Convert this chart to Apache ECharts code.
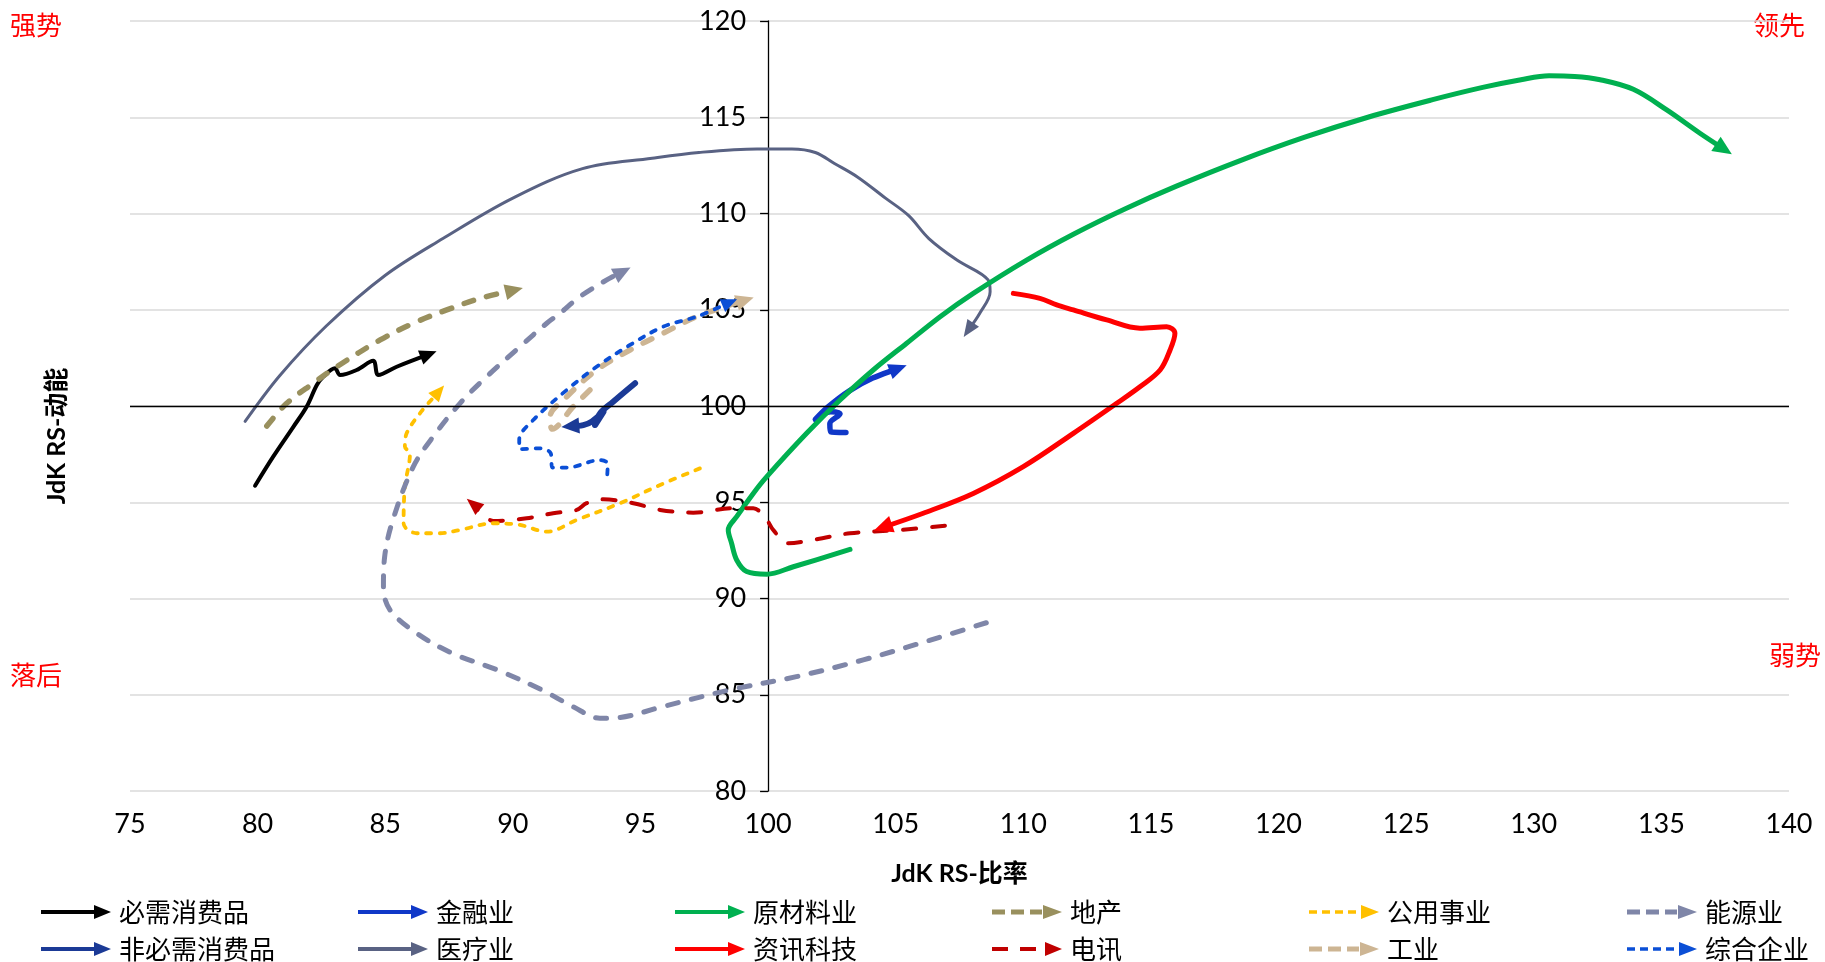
<!DOCTYPE html>
<html>
<head>
<meta charset="utf-8">
<script src="https://cdn.jsdelivr.net/npm/echarts@6/dist/echarts.min.js"></script>
<style>
  html, body { margin: 0; padding: 0; background: #ffffff; }
  #chart { width: 1825px; height: 962px; }
</style>
</head>
<body>
<div id="chart"></div>
<script>
// ---- Relative-rotation data: [JdK RS-比率, JdK RS-动能], oldest point first ----
const sectorNames = ['必需消费品', '非必需消费品', '金融业', '医疗业', '原材料业', '资讯科技',
                     '地产', '电讯', '公用事业', '工业', '能源业', '综合企业'];

const pathStaples = [[79.90, 95.86], [80.61, 97.37], [81.40, 98.92], [81.92, 99.96], [82.32, 101.09],
  [82.57, 101.52], [83.03, 101.96], [83.23, 101.61], [83.88, 101.87], [84.53, 102.35], [84.73, 101.61],
  [85.45, 102.04], [86.70, 102.68]];
const pathDiscretionary = [[94.79, 101.18], [93.93, 100.22], [93.42, 99.62], [93.22, 99.01], [93.55, 99.70],
  [93.10, 99.20], [92.76, 99.01], [92.25, 98.95]];
const pathFinancials = [[103.05, 98.62], [102.45, 98.66], [102.42, 99.08], [102.82, 99.60], [102.45, 99.70],
  [101.85, 99.30], [102.35, 99.95], [103.20, 100.80], [104.10, 101.45], [105.10, 101.95]];
const pathHealthCare = [[79.51, 99.20], [80.88, 101.60], [82.70, 104.17], [84.98, 106.77], [87.26, 108.70],
  [90.00, 110.80], [92.73, 112.33], [95.46, 112.87], [97.29, 113.17], [99.57, 113.35], [100.93, 113.35],
  [101.85, 113.17], [102.60, 112.60], [103.50, 111.90], [104.60, 110.80], [105.50, 109.90], [106.30, 108.70],
  [107.40, 107.58], [108.62, 106.55], [108.70, 105.94], [108.30, 104.83], [107.85, 103.95]];
const pathMaterials = [[103.21, 92.55], [100.99, 91.65], [99.95, 91.26], [99.16, 91.40], [98.77, 92.00],
  [98.57, 92.87], [98.44, 93.56], [98.77, 94.25], [99.42, 95.46], [99.95, 96.33], [101.51, 98.58],
  [102.82, 100.31], [104.12, 101.87], [105.43, 103.26], [106.74, 104.64], [108.04, 105.85], [110.13, 107.58],
  [112.00, 108.95], [114.00, 110.25], [116.00, 111.42], [118.50, 112.75], [121.00, 113.95], [123.50, 115.00],
  [126.00, 115.90], [128.00, 116.55], [129.50, 116.95], [130.60, 117.15], [131.60, 117.12], [132.60, 116.95],
  [133.90, 116.45], [135.21, 115.38], [136.51, 114.17], [137.45, 113.35]];
const pathInfoTech = [[109.61, 105.85], [110.65, 105.59], [111.31, 105.25], [111.96, 104.99], [113.27, 104.47],
  [114.57, 104.04], [115.62, 104.12], [115.94, 103.78], [115.75, 102.91], [115.36, 101.87], [114.57, 101.00],
  [113.66, 100.14], [111.96, 98.58], [110.00, 96.85], [108.04, 95.46], [106.08, 94.43], [104.50, 93.70]];
const pathProperty = [[80.36, 98.96], [81.14, 100.14], [82.18, 101.18], [83.10, 102.04], [84.80, 103.43],
  [86.10, 104.30], [87.41, 104.99], [88.71, 105.59], [90.05, 106.02]];
const pathTelecom = [[106.93, 93.78], [105.17, 93.56], [103.21, 93.39], [101.91, 93.08], [100.79, 92.87],
  [100.20, 93.56], [99.95, 94.08], [99.42, 94.69], [98.64, 94.69], [97.07, 94.46], [95.77, 94.60],
  [94.72, 94.95], [93.54, 95.15], [92.89, 94.95], [92.50, 94.60], [91.58, 94.43], [90.54, 94.17],
  [89.24, 94.03], [88.45, 94.90]];
const pathUtilities = [[97.33, 96.76], [95.77, 95.90], [94.20, 94.95], [92.50, 94.08], [91.33, 93.47],
  [90.28, 93.82], [89.24, 93.91], [87.93, 93.56], [87.12, 93.39], [86.24, 93.39], [85.72, 93.91],
  [85.77, 95.81], [85.97, 97.54], [85.77, 97.89], [85.84, 98.58], [86.36, 99.62], [87.10, 100.75]];
const pathIndustrials = [[93.02, 100.83], [92.36, 99.96], [91.55, 98.80], [91.46, 99.44], [92.11, 100.48],
  [93.28, 101.87], [94.59, 102.91], [95.89, 103.78], [97.20, 104.64], [98.51, 105.25], [99.10, 105.50]];
const pathEnergy = [[108.55, 88.74], [106.36, 87.84], [103.73, 86.81], [101.11, 85.94], [98.49, 85.25],
  [95.86, 84.38], [94.12, 83.81], [93.41, 83.78], [92.36, 84.38], [91.14, 85.25], [89.39, 86.29],
  [87.64, 87.15], [86.24, 88.19], [85.19, 89.40], [84.93, 90.61], [84.98, 92.20], [85.30, 94.08],
  [86.10, 96.85], [86.88, 98.41], [87.93, 100.14], [88.97, 101.52], [90.28, 103.08], [91.33, 104.30],
  [91.85, 104.82], [92.63, 105.68], [93.68, 106.55], [94.30, 106.98]];
const pathConglomerates = [[93.70, 96.45], [93.72, 97.00], [93.42, 97.19], [92.11, 96.80], [91.55, 96.80],
  [91.48, 97.55], [91.06, 97.80], [90.28, 97.75], [90.25, 98.25], [90.80, 99.27], [92.11, 100.83],
  [93.28, 102.04], [94.59, 103.17], [95.89, 104.12], [97.20, 104.64], [98.50, 105.38]];

const sectorPaths = [pathStaples, pathDiscretionary, pathFinancials, pathHealthCare, pathMaterials, pathInfoTech,
                     pathProperty, pathTelecom, pathUtilities, pathIndustrials, pathEnergy, pathConglomerates];

const xTicks = { min: 75, max: 140, step: 5 };
const yTicks = { min: 80, max: 120, step: 5 };
const crossValue = 100;
const quadrantLabels = ['强势', '领先', '落后', '弱势'];
const xAxisTitle = 'JdK RS-比率';
const yAxisTitle = 'JdK RS-动能';

// legend columns: pairs of sector indices (top row, bottom row)
const legendColumns = [[0, 1], [2, 3], [4, 5], [6, 7], [8, 9], [10, 11]];

// ---- Styling ----
const W = 1825, H = 962;
const GRID = { left: 130, right: 36, top: 21, bottom: 171 };
const NUM_FONT = 'Lato, "Noto Sans CJK SC", sans-serif';
const CJK_FONT = '"Noto Sans CJK SC", sans-serif';

const ICON_SOLID = 'path://M0,5L54,5L54,9L0,9Z M53,0L70,7L53,14Z';
const ICON_DASH3 = 'path://M0,4.5L13,4.5L13,9.5L0,9.5Z M19,4.5L32,4.5L32,9.5L19,9.5Z M38,4.5L50,4.5L50,9.5L38,9.5Z M51,0L70,7L51,14Z';
const ICON_DASH2 = 'path://M0,5L16,5L16,9L0,9Z M28,5L44,5L44,9L28,9Z M53,0L70,7L53,14Z';
const ICON_DASH4 = 'path://M0,5.2L8,5.2L8,8.8L0,8.8Z M13,5.2L21,5.2L21,8.8L13,8.8Z M26,5.2L34,5.2L34,8.8L26,8.8Z M39,5.2L47,5.2L47,8.8L39,8.8Z M52,0L70,7L52,14Z';

const sectorStyles = [
  { color: '#000000', width: 4,   type: 'solid', cap: 'round', icon: ICON_SOLID, arrow: [15, 17] },
  { color: '#1B3A96', width: 6,   type: 'solid', cap: 'round', icon: ICON_SOLID, arrow: [16, 18] },
  { color: '#1038C8', width: 5.5, type: 'solid', cap: 'round', icon: ICON_SOLID, arrow: [16, 18] },
  { color: '#596283', width: 3,   type: 'solid', cap: 'round', icon: ICON_SOLID, arrow: [14, 17] },
  { color: '#00B050', width: 5,   type: 'solid', cap: 'round', icon: ICON_SOLID, arrow: [17, 19] },
  { color: '#FF0000', width: 5,   type: 'solid', cap: 'round', icon: ICON_SOLID, arrow: [17, 19] },
  { color: '#99905E', width: 5.5, type: [10, 13.5], cap: 'round', icon: ICON_DASH3, arrow: [16, 18] },
  { color: '#C00000', width: 4,   type: [13, 16], cap: 'round', icon: ICON_DASH2, arrow: [14, 17] },
  { color: '#FFC000', width: 3.8, type: [5, 8.5], cap: 'round', icon: ICON_DASH4, arrow: [14, 16] },
  { color: '#CDB593', width: 5.5, type: [10, 13.5], cap: 'round', icon: ICON_DASH3, arrow: [16, 18] },
  { color: '#7F86A8', width: 5,   type: [11, 13.5], cap: 'round', icon: ICON_DASH3, arrow: [16, 18] },
  { color: '#0B4FD6', width: 3.8, type: [5, 8.5], cap: 'round', icon: ICON_DASH4, arrow: [14, 16] }
];
const legendLefts = [41, 358, 675, 992, 1309, 1627];

const chart = echarts.init(document.getElementById('chart'), null, { renderer: 'canvas', width: W, height: H });

// the momentum axis sits on the x = crossValue line
const plotWidth = W - GRID.left - GRID.right;
const yAxisOffset = -(crossValue - xTicks.min) / (xTicks.max - xTicks.min) * plotWidth;

function buildSeries(rotations) {
  const list = [{
    name: '__cross', type: 'line', data: [], z: 1, silent: true,
    markLine: {
      silent: true, symbol: ['none', 'none'], animation: false,
      label: { show: false }, emphasis: { disabled: true },
      lineStyle: { color: '#000000', width: 1.3, type: 'solid' },
      data: [{ yAxis: crossValue }]
    }
  }];
  sectorNames.forEach((name, i) => {
    const st = sectorStyles[i];
    const pts = sectorPaths[i];
    list.push({
      name, type: 'line', smooth: 0.35, z: 3,
      symbol: 'triangle', showSymbol: true, animation: false,
      emphasis: { disabled: true }, silent: true,
      lineStyle: { color: st.color, width: st.width, type: st.type, cap: st.cap, join: 'round' },
      itemStyle: { color: st.color, borderWidth: 0 },
      data: pts.map((p, k) => k === pts.length - 1
        ? { value: p, symbol: 'triangle', symbolSize: st.arrow, symbolRotate: rotations ? rotations[i] : 0 }
        : { value: p, symbol: 'none' })
    });
  });
  return list;
}

const option = {
  backgroundColor: '#ffffff',
  animation: false,
  grid: { left: GRID.left, right: GRID.right, top: GRID.top, bottom: GRID.bottom, containLabel: false },
  xAxis: {
    type: 'value', min: xTicks.min, max: xTicks.max, interval: xTicks.step,
    name: xAxisTitle, nameLocation: 'middle', nameGap: 70,
    nameTextStyle: { fontFamily: NUM_FONT, fontWeight: 'bold', fontSize: 25, color: '#000000' },
    axisLine: { show: false }, axisTick: { show: false }, splitLine: { show: false },
    axisLabel: { fontFamily: NUM_FONT, fontSize: 27, color: '#000000', margin: 20 }
  },
  yAxis: {
    type: 'value', min: yTicks.min, max: yTicks.max, interval: yTicks.step,
    position: 'left', offset: yAxisOffset,
    axisLine: { show: true, lineStyle: { color: '#000000', width: 1.3 } },
    axisTick: { show: true, length: 8, lineStyle: { color: '#000000', width: 1.3 } },
    splitLine: { show: true, lineStyle: { color: '#DADADA', width: 1.5 } },
    axisLabel: { fontFamily: NUM_FONT, fontSize: 27, color: '#000000', margin: 22 }
  },
  legend: legendColumns.map((col, c) => ({
    orient: 'vertical', left: legendLefts[c], top: 899, height: 120, padding: 0,
    itemGap: 11, itemWidth: 70, itemHeight: 14, selectedMode: false,
    itemStyle: { borderWidth: 0 },
    textStyle: { fontFamily: CJK_FONT, fontSize: 26, color: '#000000', padding: [0, 0, 0, 3] },
    data: col.map(i => ({ name: sectorNames[i], icon: sectorStyles[i].icon }))
  })),
  graphic: [
    { type: 'text', left: 10, top: 12, style: { text: quadrantLabels[0], fill: '#FF0000', font: '26px ' + CJK_FONT } },
    { type: 'text', right: 20, top: 12, style: { text: quadrantLabels[1], fill: '#FF0000', font: '26px ' + CJK_FONT } },
    { type: 'text', left: 10, top: 662, style: { text: quadrantLabels[2], fill: '#FF0000', font: '26px ' + CJK_FONT } },
    { type: 'text', right: 4, top: 642, style: { text: quadrantLabels[3], fill: '#FF0000', font: '26px ' + CJK_FONT } },
    { type: 'text', x: 57, y: 436, rotation: Math.PI / 2,
      style: { text: yAxisTitle, fill: '#000000', font: 'bold 25px ' + NUM_FONT, textAlign: 'center', textVerticalAlign: 'middle' } }
  ],
  series: buildSeries(null)
};

chart.setOption(option);

// orient each arrowhead along the final segment of its path, measured in pixels
const rotations = sectorPaths.map(pts => {
  const a = chart.convertToPixel({ gridIndex: 0 }, pts[pts.length - 2]);
  const b = chart.convertToPixel({ gridIndex: 0 }, pts[pts.length - 1]);
  const ang = Math.atan2(-(b[1] - a[1]), b[0] - a[0]) * 180 / Math.PI;
  return ang - 90;
});
chart.setOption({ series: buildSeries(rotations) });
</script>
</body>
</html>
